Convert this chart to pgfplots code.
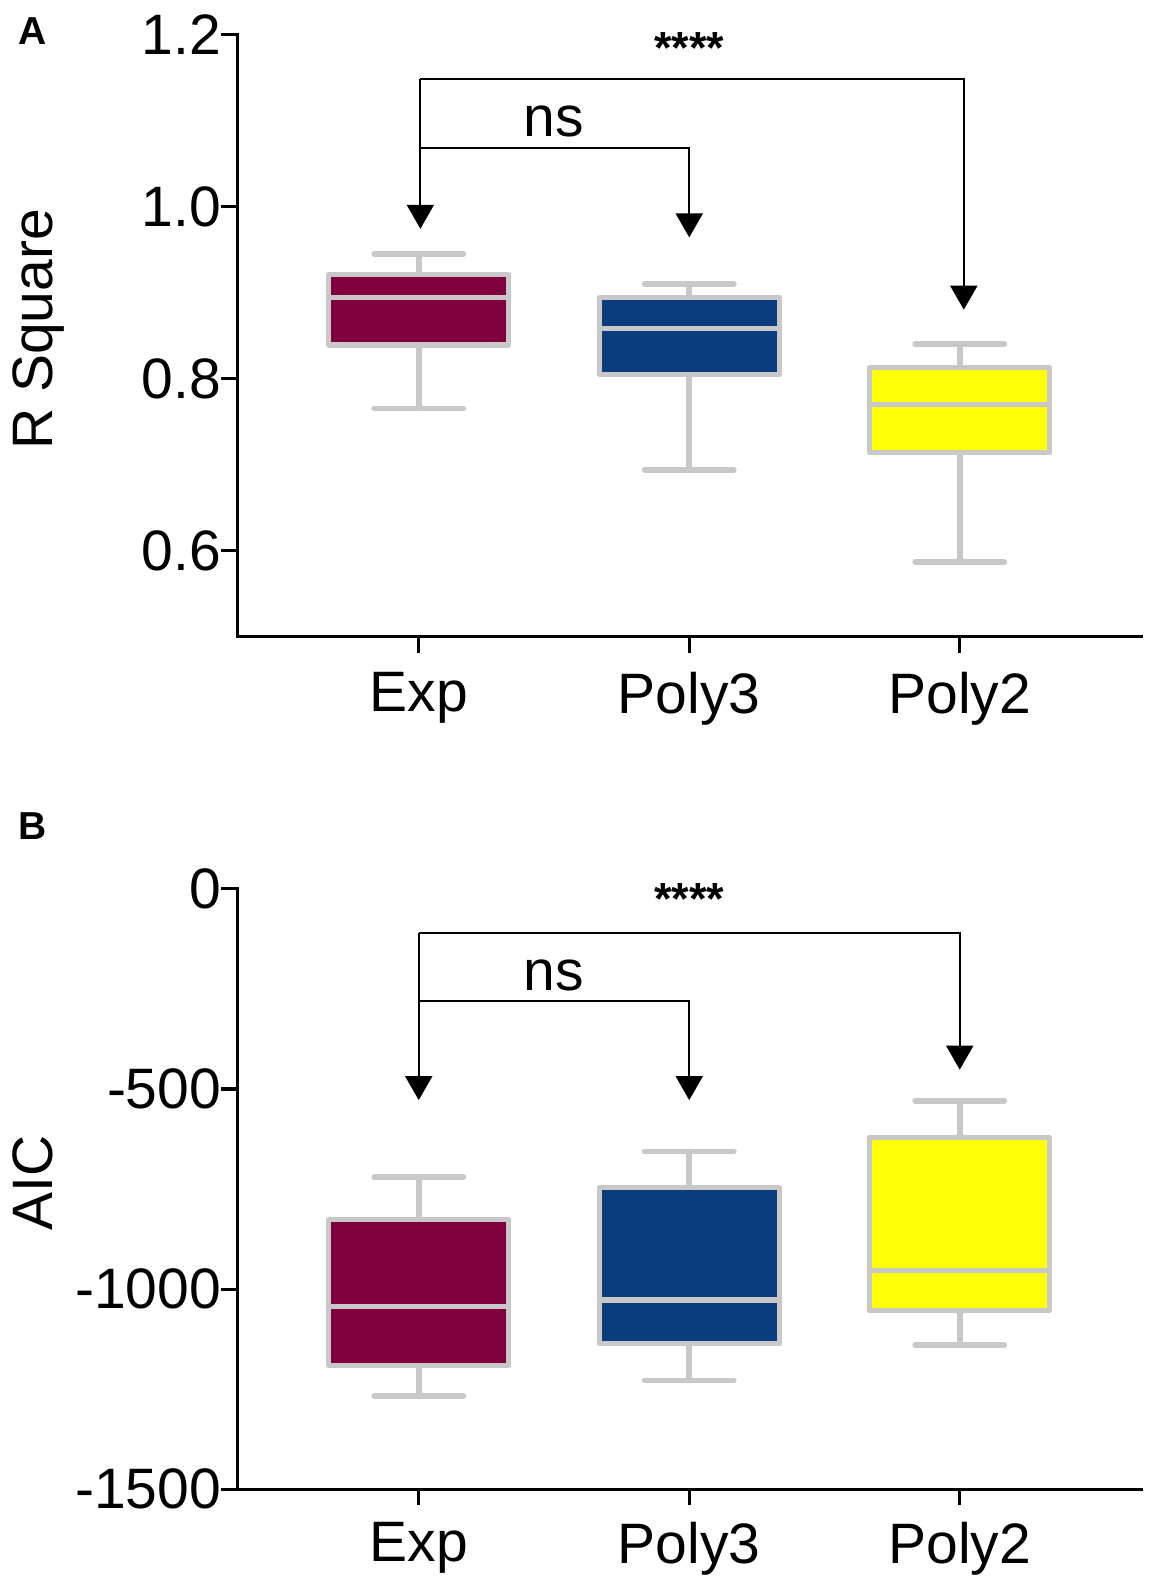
\documentclass[border=0pt]{standalone}
\usepackage{fontspec}
\setmainfont{Liberation Sans}
\usepackage{pgfplots}
\pgfplotsset{compat=1.18}
\usetikzlibrary{arrows.meta}
\definecolor{cmaroon}{RGB}{128,0,62}
\definecolor{cblue}{RGB}{9,61,125}
\definecolor{cyellow}{RGB}{255,255,8}
\definecolor{cgrey}{RGB}{200,200,200}
\newcommand{\tickfont}{\fontsize{28.5}{34}\selectfont}
\tikzset{
  bracket/.style={line width=1pt, -{Triangle[width=13.5pt,length=12pt]}},
  whisk/.style={draw=cgrey, line width=2.8pt, line cap=round},
  boxs/.style={draw=cgrey, line width=2.6pt, line join=round},
  med/.style={draw=cgrey, line width=2.6pt, line cap=butt},
}
\pgfplotsset{
  mybox/.style={
    scale only axis,
    no markers,
    width=451.75pt,
    xmin=0.33, xmax=3.67,
    axis lines=left,
    axis line style={-, line width=1.7pt, line cap=rect},
    tick align=outside,
    major tick length=8pt,
    every tick/.style={black, line width=1.6pt},
    xtick={1,2,3},
    xticklabels={Exp,Poly3,Poly2},
    tick label style={font=\tickfont},
    yticklabel style={anchor=east, inner sep=0pt},
    xticklabel style={anchor=north, inner sep=0pt},
    clip=false,
    every axis y label/.style={at={(axis description cs:-0.2053,0.51)}, anchor=base, rotate=90, inner sep=0pt, font=\tickfont},
  },
}
\begin{document}
\begin{tikzpicture}
\useasboundingbox (0,0) rectangle (578pt,-792pt);
\node[anchor=north west, inner sep=0pt, font=\bfseries\fontsize{19.5}{23}\selectfont] at (9pt,-8.5pt) {A};
\node[anchor=north west, inner sep=0pt, font=\bfseries\fontsize{19.5}{23}\selectfont] at (9pt,-406pt) {B};

\begin{axis}[mybox, at={(118.75pt,-318.35pt)}, anchor=south west, height=301.2pt,
  ymin=0.5, ymax=1.2, ytick={0.6,0.8,1.0,1.2}, yticklabels={0.6,0.8,1.0,1.2},
  xticklabel style={yshift=-9.6pt},
  ylabel={R Square}]
% Exp
\addplot[whisk] coordinates {(1,0.765) (1,0.839)};
\addplot[whisk] coordinates {(1,0.921) (1,0.945)};
\addplot[whisk] coordinates {(0.835,0.765) (1.165,0.765)};
\addplot[whisk] coordinates {(0.835,0.945) (1.165,0.945)};
\addplot[boxs, fill=cmaroon] coordinates {(0.6675,0.839) (1.3325,0.839) (1.3325,0.921) (0.6675,0.921)} -- cycle;
\addplot[med] coordinates {(0.6675,0.894) (1.3325,0.894)};
% Poly3
\addplot[whisk] coordinates {(2,0.694) (2,0.805)};
\addplot[whisk] coordinates {(2,0.894) (2,0.910)};
\addplot[whisk] coordinates {(1.835,0.694) (2.165,0.694)};
\addplot[whisk] coordinates {(1.835,0.910) (2.165,0.910)};
\addplot[boxs, fill=cblue] coordinates {(1.6675,0.805) (2.3325,0.805) (2.3325,0.894) (1.6675,0.894)} -- cycle;
\addplot[med] coordinates {(1.6675,0.858) (2.3325,0.858)};
% Poly2
\addplot[whisk] coordinates {(3,0.587) (3,0.714)};
\addplot[whisk] coordinates {(3,0.813) (3,0.840)};
\addplot[whisk] coordinates {(2.835,0.587) (3.165,0.587)};
\addplot[whisk] coordinates {(2.835,0.840) (3.165,0.840)};
\addplot[boxs, fill=cyellow] coordinates {(2.6675,0.714) (3.3325,0.714) (3.3325,0.813) (2.6675,0.813)} -- cycle;
\addplot[med] coordinates {(2.6675,0.770) (3.3325,0.770)};
\draw[bracket] (axis cs:1.006,1.148) -| (axis cs:3.015,0.880);
\draw[bracket] (axis cs:1.006,1.148) -- (axis cs:1.006,0.974);
\draw[bracket] (axis cs:1.006,1.068) -| (axis cs:2,0.964);
\node[anchor=north, inner sep=0pt, font=\bfseries\fontsize{22.5}{27}\selectfont] at (axis cs:2,1.2025) {****};
\node[anchor=base, inner sep=0pt, font=\tickfont] at (axis cs:1.5,1.0811) {ns};
\end{axis}

\begin{axis}[mybox, at={(118.75pt,-744.65pt)}, anchor=south west, height=300.3pt,
  ymin=-1500, ymax=0, ytick={-1500,-1000,-500,0}, yticklabels={-1500,-1000,-500,0},
  xticklabel style={yshift=-8.4pt},
  ylabel={AIC}]
% Exp
\addplot[whisk] coordinates {(1,-1267.5) (1,-1191.5)};
\addplot[whisk] coordinates {(1,-826.5) (1,-720)};
\addplot[whisk] coordinates {(0.835,-1267.5) (1.165,-1267.5)};
\addplot[whisk] coordinates {(0.835,-720) (1.165,-720)};
\addplot[boxs, fill=cmaroon] coordinates {(0.6675,-1191.5) (1.3325,-1191.5) (1.3325,-826.5) (0.6675,-826.5)} -- cycle;
\addplot[med] coordinates {(0.6675,-1043) (1.3325,-1043)};
% Poly3
\addplot[whisk] coordinates {(2,-1228) (2,-1136)};
\addplot[whisk] coordinates {(2,-747) (2,-656)};
\addplot[whisk] coordinates {(1.835,-1228) (2.165,-1228)};
\addplot[whisk] coordinates {(1.835,-656) (2.165,-656)};
\addplot[boxs, fill=cblue] coordinates {(1.6675,-1136) (2.3325,-1136) (2.3325,-747) (1.6675,-747)} -- cycle;
\addplot[med] coordinates {(1.6675,-1027) (2.3325,-1027)};
% Poly2
\addplot[whisk] coordinates {(3,-1140) (3,-1053)};
\addplot[whisk] coordinates {(3,-621.5) (3,-530)};
\addplot[whisk] coordinates {(2.835,-1140) (3.165,-1140)};
\addplot[whisk] coordinates {(2.835,-530) (3.165,-530)};
\addplot[boxs, fill=cyellow] coordinates {(2.6675,-1053) (3.3325,-1053) (3.3325,-621.5) (2.6675,-621.5)} -- cycle;
\addplot[med] coordinates {(2.6675,-953) (3.3325,-953)};
\draw[bracket] (axis cs:1,-110) -| (axis cs:3,-452);
\draw[bracket] (axis cs:1,-110) -- (axis cs:1,-528);
\draw[bracket] (axis cs:1,-280) -| (axis cs:2,-528);
\node[anchor=north, inner sep=0pt, font=\bfseries\fontsize{22.5}{27}\selectfont] at (axis cs:2,14) {****};
\node[anchor=base, inner sep=0pt, font=\tickfont] at (axis cs:1.5,-255) {ns};
\end{axis}
\end{tikzpicture}
\end{document}
